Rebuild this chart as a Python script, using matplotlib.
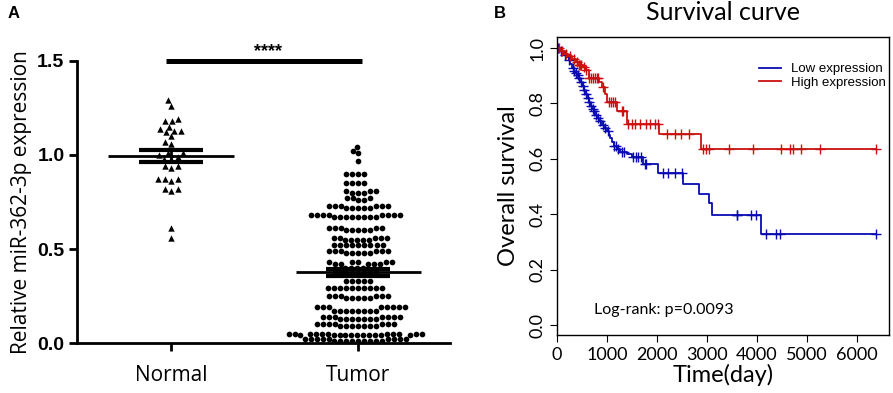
import numpy as np
import matplotlib
matplotlib.use("Agg")
import matplotlib.pyplot as plt
import seaborn as sns

# ---------------- data ----------------
groups = ["Normal", "Tumor"]
normal_vals = [1.29, 1.26, 1.18, 1.19, 1.18, 1.15, 1.13, 1.13, 1.12, 1.14, 1.10,
               1.07, 1.06, 1.01, 1.00, 1.01, 0.98, 0.98, 0.99, 0.94, 0.94, 0.93,
               0.87, 0.86, 0.87, 0.87, 0.82, 0.81, 0.82, 0.61, 0.56]
tumor_vals = [1.04,
              1.02, 1.01,
              0.97,
              0.90, 0.90, 0.90, 0.90,
              0.85, 0.85, 0.85, 0.85,
              0.81, 0.81, 0.80, 0.80, 0.81, 0.80,
              0.77, 0.76, 0.77, 0.76, 0.77,
              0.73, 0.73, 0.73, 0.73, 0.73, 0.73, 0.72, 0.72, 0.72, 0.72, 0.72,
              0.68, 0.68, 0.68, 0.68, 0.68, 0.68, 0.68, 0.68,
              0.67, 0.67, 0.67, 0.67, 0.67, 0.67, 0.67, 0.67,
              0.61, 0.61, 0.61, 0.61, 0.61, 0.60, 0.60, 0.60, 0.60, 0.60,
              0.56, 0.56, 0.56, 0.56, 0.56, 0.55, 0.55, 0.55, 0.55, 0.55,
              0.52, 0.52, 0.52, 0.52, 0.52, 0.52, 0.52, 0.52, 0.52,
              0.49, 0.49, 0.49, 0.49, 0.49, 0.49, 0.48, 0.48, 0.48, 0.48, 0.48,
              0.43, 0.43, 0.43, 0.43, 0.43, 0.42, 0.42, 0.42, 0.42, 0.42,
              0.40, 0.40, 0.40, 0.40, 0.38, 0.38, 0.38, 0.38, 0.37, 0.37, 0.37, 0.37,
              0.33, 0.33, 0.33, 0.33, 0.33,
              0.29, 0.29, 0.29, 0.29, 0.29, 0.29, 0.29, 0.29, 0.29, 0.29,
              0.25, 0.25, 0.25, 0.25, 0.25, 0.25, 0.24, 0.24, 0.24, 0.24, 0.24,
              0.19, 0.19, 0.19, 0.19, 0.19, 0.19, 0.19, 0.19,
              0.17, 0.17, 0.17, 0.17, 0.17, 0.17, 0.17, 0.17,
              0.14, 0.14, 0.14, 0.14, 0.14, 0.14, 0.14,
              0.13, 0.13, 0.13, 0.13, 0.13, 0.13, 0.13,
              0.10, 0.10, 0.10, 0.10, 0.10, 0.10, 0.10,
              0.09, 0.09, 0.09, 0.09, 0.09, 0.09, 0.09,
              0.05, 0.05, 0.05, 0.05, 0.05, 0.05, 0.05, 0.05, 0.05, 0.05, 0.05,
              0.04, 0.04, 0.04, 0.04, 0.04, 0.04, 0.04, 0.04, 0.04, 0.04, 0.04,
              0.02, 0.02, 0.02, 0.02, 0.02, 0.02, 0.02, 0.02, 0.02,
              0.01, 0.01, 0.01, 0.01, 0.01, 0.01, 0.01, 0.01, 0.01]
a_yticks = [0.0, 0.5, 1.0, 1.5]

# Kaplan-Meier: event times and survival after each event, censor times
low_event_t = [60, 133, 200, 233, 270, 300, 340, 370, 400, 430, 466, 500, 533, 566,
               600, 633, 666, 700, 733, 766, 800, 850, 900, 950, 1000, 1033, 1066,
               1100, 1133, 1200, 1266, 1400, 1500, 1733, 2033, 2520, 2853, 3053,
               3100, 4087]
low_event_s = [0.990, 0.976, 0.967, 0.958, 0.943, 0.928, 0.916, 0.910, 0.904, 0.892,
               0.879, 0.864, 0.849, 0.834, 0.819, 0.804, 0.789, 0.780, 0.771, 0.759,
               0.747, 0.735, 0.723, 0.711, 0.699, 0.687, 0.675, 0.661, 0.647, 0.636,
               0.626, 0.617, 0.608, 0.581, 0.548, 0.509, 0.473, 0.440, 0.397, 0.329]
low_censor_t = [30, 90, 160, 250, 320, 350, 380, 420, 450, 480, 520, 550, 580, 620,
                650, 690, 720, 750, 780, 820, 870, 920, 970, 1020, 1150, 1180, 1230,
                1300, 1350, 1530, 1580, 1630, 1690, 1760, 1790, 2120, 2230, 2370,
                2510, 3600, 3615, 3880, 3990, 4190, 4390, 4470, 6390]
high_event_t = [70, 150, 230, 300, 380, 433, 520, 566, 633, 850, 900, 960, 1000,
                1200, 1400, 2050, 2890]
high_event_s = [0.990, 0.980, 0.970, 0.960, 0.950, 0.940, 0.930, 0.920, 0.892, 0.876,
                0.861, 0.834, 0.807, 0.771, 0.726, 0.690, 0.635]
high_censor_t = [40, 110, 190, 270, 350, 400, 450, 470, 490, 540, 590, 650, 690, 720,
                 760, 800, 830, 920, 1050, 1080, 1120, 1160, 1300, 1330, 1430, 1500,
                 1560, 1660, 1790, 1870, 1970, 2030, 2200, 2370, 2480, 2650, 2930,
                 2990, 3040, 3450, 3930, 4480, 4660, 4720, 4880, 5270, 6400]
b_xticks = [0, 1000, 2000, 3000, 4000, 5000, 6000]
b_yticks = [0.0, 0.2, 0.4, 0.6, 0.8, 1.0]

# ---------------- figure ----------------
fig = plt.figure(figsize=(8.93, 3.93), dpi=100)

# ---- Panel A ----
axA = fig.add_axes([0.0862, 0.1272, 0.4177, 0.7176])
sns.swarmplot(x=["Normal"] * len(normal_vals), y=normal_vals, order=groups,
              marker="^", color="black", size=4.6, ax=axA, linewidth=0)
sns.swarmplot(x=["Tumor"] * len(tumor_vals), y=tumor_vals, order=groups,
              marker="o", color="black", size=4.1, ax=axA, linewidth=0)

for i, vals in enumerate([normal_vals, tumor_vals]):
    v = np.asarray(vals)
    m = v.mean()
    se = v.std(ddof=1) / np.sqrt(len(v))
    axA.hlines(m, i - 0.335, i + 0.335, color="black", lw=2.0, zorder=5)
    axA.hlines([m - se, m + se], i - 0.17, i + 0.17, color="black", lw=3.0, zorder=5)
    axA.vlines(i, m - se, m + se, color="black", lw=2.0, zorder=5)

axA.set_xlim(-0.503, 1.49)
axA.set_ylim(0, 1.5)
axA.set_yticks(a_yticks)
axA.set_yticklabels([f"{t:.1f}" for t in a_yticks])
axA.set_xticks([0, 1])
axA.set_xticklabels(groups)
for lab in axA.get_yticklabels():
    lab.set_fontfamily("Liberation Sans")
    lab.set_fontweight("bold")
    lab.set_fontsize(14)
for lab in axA.get_xticklabels():
    lab.set_fontfamily("Open Sans")
    lab.set_fontsize(15)
axA.tick_params(axis="both", width=2.0, length=6, direction="out", color="black")
axA.tick_params(axis="x", pad=10)
axA.tick_params(axis="y", pad=3)
for s in ["top", "right"]:
    axA.spines[s].set_visible(False)
for s in ["left", "bottom"]:
    axA.spines[s].set_linewidth(2.0)
axA.set_xlabel("")
axA.set_ylabel("Relative miR-362-3p expression", fontfamily="Open Sans", fontsize=15,
               labelpad=4)
axA.plot([-0.027, 1.02], [1.5, 1.5], color="black", lw=3.6, clip_on=False,
         solid_capstyle="butt")
axA.text(0.52, 1.525, "****", ha="center", va="baseline", fontsize=13,
         fontweight="bold", fontfamily="Liberation Sans", clip_on=False)
fig.text(0.008, 0.965, "A", fontsize=12, fontweight="bold",
         fontfamily="Liberation Sans", va="center")

# ---- Panel B ----
axB = fig.add_axes([0.6237, 0.1476, 0.3718, 0.7583])
end_t = 6400


def km(ax, ev_t, ev_s, c_t, color, label):
    t = np.r_[0, ev_t, end_t]
    s = np.r_[1.0, ev_s, ev_s[-1]]
    ax.step(t, s, where="post", color=color, lw=1.3, label=label)
    steps_t = np.r_[0, ev_t]
    steps_s = np.r_[1.0, ev_s]
    idx = np.searchsorted(steps_t, np.asarray(c_t), side="right") - 1
    ax.plot(c_t, steps_s[idx], linestyle="none", marker="+", ms=7, mew=1.0,
            color=color)


km(axB, low_event_t, low_event_s, low_censor_t, "#0a0ab4", "Low expression")
km(axB, high_event_t, high_event_s, high_censor_t, "#cc1010", "High expression")

axB.set_xlim(0, 6650)
axB.set_ylim(-0.036, 1.04)
axB.set_xticks(b_xticks)
axB.set_yticks(b_yticks)
axB.set_yticklabels([f"{t:.1f}" for t in b_yticks], rotation=90, va="center")
for lab in axB.get_xticklabels() + axB.get_yticklabels():
    lab.set_fontfamily("Lato")
    lab.set_fontsize(13)
axB.tick_params(axis="both", width=0.8, length=5, direction="out")
for s in axB.spines.values():
    s.set_linewidth(1.0)
axB.set_xlabel("Time(day)", fontfamily="Lato", fontsize=17, labelpad=1)
axB.set_ylabel("Overall survival", fontfamily="Lato", fontsize=17, labelpad=7)
axB.set_title("Survival curve", fontfamily="Lato", fontsize=18, pad=12)
axB.text(0.111, 0.085, "Log-rank: p=0.0093", transform=axB.transAxes,
         fontfamily="Lato", fontsize=11.5, va="center", ha="left")
axB.legend(loc="upper left", bbox_to_anchor=(0.59, 0.935), frameon=False,
           prop={"family": "Liberation Sans", "size": 9.5}, handlelength=1.6,
           handletextpad=0.8, labelspacing=0.1, borderpad=0)
fig.text(0.553, 0.965, "B", fontsize=12, fontweight="bold",
         fontfamily="Liberation Sans", va="center")

fig.savefig("out.png", dpi=100)
